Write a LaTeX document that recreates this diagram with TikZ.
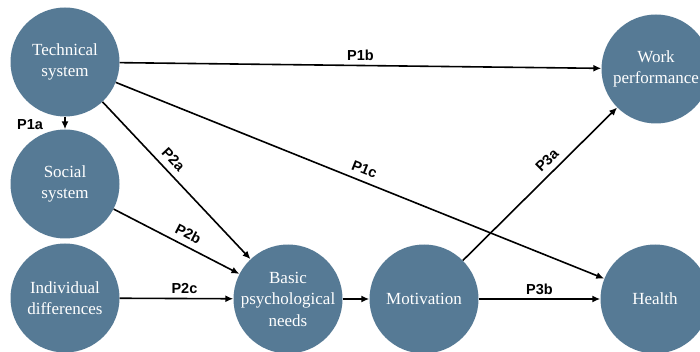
\documentclass[tikz,border=0pt]{standalone}
\usepackage{fontspec}
\setmainfont{Liberation Serif}
\setsansfont{Liberation Sans}
\usetikzlibrary{arrows.meta}
\definecolor{circfill}{RGB}{86,122,149}
\tikzset{
  construct/.style={circle, fill=circfill, minimum size=109pt, inner sep=0pt,
    align=center, text=white, font=\fontsize{17}{21.5}\selectfont},
  arr/.style={line width=1.6pt, -{Latex[length=8pt,width=7pt]}},
  plabel/.style={font=\sffamily\bfseries\fontsize{14.5}{16}\selectfont, inner sep=1pt}
}
\begin{document}
\begin{tikzpicture}[x=1pt,y=-1pt]
\useasboundingbox (0,0) rectangle (700,352);
\clip (0,0) rectangle (700,352);
\node[construct] (tech) at (65,62) {Technical\\system};
\node[construct] (social) at (65,184) {Social\\system};
\node[construct] (indiv) at (65,298) {Individual\\differences};
\node[construct] (basic) at (288,299) {Basic\\psychological\\needs};
\node[construct] (motiv) at (424,299) {Motivation};
\node[construct] (work) at (656,69) {Work\\performance};
\node[construct] (health) at (655,299) {Health};

\draw[arr] (tech) -- (social);
\node[plabel] (p1a) at (30,125) {P1a};
\draw[arr] (tech) -- (work) node[plabel, midway, above=3pt] (p1b) {P1b};
\draw[arr] (tech) -- (health) node[plabel, midway, above=5pt, sloped] (p1c) {P1c};
\draw[arr] (tech) -- (basic) node[plabel, pos=0.42, above=5pt, sloped] (p2a) {P2a};
\draw[arr] (social) -- (basic) node[plabel, pos=0.55, above=5pt, sloped] (p2b) {P2b};
\draw[arr] (indiv) -- (basic) node[plabel, pos=0.57, above=3pt] (p2c) {P2c};
\draw[arr] (basic) -- (motiv);
\draw[arr] (motiv) -- (work) node[plabel, pos=0.6, above=5pt, sloped] (p3a) {P3a};
\draw[arr] (motiv) -- (health) node[plabel, midway, above=3pt] (p3b) {P3b};
\end{tikzpicture}
\end{document}
